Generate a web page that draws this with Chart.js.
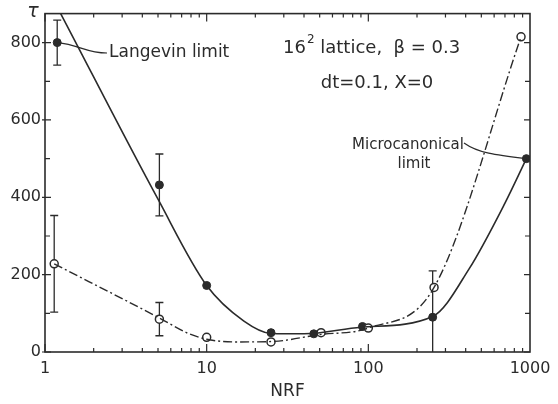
<!DOCTYPE html>
<html>
<head>
<meta charset="utf-8">
<script src="https://cdn.jsdelivr.net/npm/chart.js@4.4.0/dist/chart.umd.min.js"></script>
<style>
html, body { margin: 0; padding: 0; background: #fff; }
#c { display: block; }
</style>
</head>
<body>
<canvas id="c" width="558" height="404"></canvas>
<script>
// measured points (filled = solid curve, open = dash-dot curve)
const filledX = [1.19, 5.1, 10, 25, 46, 92, 250, 950];
const filledY = [800, 432, 172, 50, 47, 66, 90, 500];
const filledErr = [58, 80, 0, 0, 0, 0, 120, 0];
const openX = [1.14, 5.1, 10, 25, 51, 100, 255, 880];
const openY = [228, 85, 38, 26, 50, 62, 167, 815];
const openErr = [125, 43, 0, 0, 0, 0, 0, 0];

// the hand drawn curves through them
const solidFitX = [1.25, 5, 10, 17, 25, 40, 90, 250, 420, 700, 950];
const solidFitY = [875, 395, 172, 80, 48, 47, 64, 92, 215, 385, 500];
const dashFitX = [1.14, 5.1, 7.6, 10, 15, 25, 50, 100, 255, 880];
const dashFitY = [228, 88, 49, 33, 26, 27, 45, 62, 167, 815];

const xLabelTicks = [1, 10, 100, 1000];
const yLabelTicks = [0, 200, 400, 600, 800];
const yMinorTicks = [100, 300, 500, 700];

const ink = '#2b2b2b';
const font = 'DejaVu Sans';

const pts = (xs, ys) => xs.map((x, i) => ({ x, y: ys[i] }));

const decor = {
    id: 'decor',
    beforeDatasetsDraw(chart) {
        const { ctx, chartArea: a, scales: { x, y } } = chart;
        ctx.save();
        ctx.beginPath();
        ctx.rect(a.left, a.top - 8, a.right - a.left, a.bottom - a.top + 8);
        ctx.clip();
        ctx.strokeStyle = ink;
        ctx.lineWidth = 1.3;
        const bars = (xs, ys, es) => xs.forEach((xv, i) => {
            if (!es[i]) return;
            const px = x.getPixelForValue(xv);
            const top = y.getPixelForValue(ys[i] + es[i]);
            const bot = y.getPixelForValue(ys[i] - es[i]);
            ctx.beginPath();
            ctx.moveTo(px, top); ctx.lineTo(px, bot);
            ctx.moveTo(px - 4, top); ctx.lineTo(px + 4, top);
            ctx.moveTo(px - 4, bot); ctx.lineTo(px + 4, bot);
            ctx.stroke();
        });
        bars(filledX, filledY, filledErr);
        bars(openX, openY, openErr);
        ctx.restore();
    },
    afterDraw(chart) {
        const { ctx, chartArea: a, scales: { x, y } } = chart;
        ctx.save();
        ctx.strokeStyle = ink;
        ctx.fillStyle = ink;

        // frame
        ctx.lineWidth = 1.6;
        ctx.strokeRect(a.left, a.top, a.right - a.left, a.bottom - a.top);

        // inward ticks on all four sides
        ctx.lineWidth = 1.2;
        ctx.beginPath();
        for (let d = 1; d < 1000; d *= 10) {
            for (let m = 1; m < 10; m++) {
                const px = x.getPixelForValue(m * d);
                const len = m === 1 ? 8 : 4;
                ctx.moveTo(px, a.bottom); ctx.lineTo(px, a.bottom - len);
                ctx.moveTo(px, a.top); ctx.lineTo(px, a.top + len);
            }
        }
        yLabelTicks.forEach(v => {
            const py = y.getPixelForValue(v);
            ctx.moveTo(a.left - 3, py); ctx.lineTo(a.left + 6, py);
            ctx.moveTo(a.right, py); ctx.lineTo(a.right - 6, py);
        });
        yMinorTicks.forEach(v => {
            const py = y.getPixelForValue(v);
            ctx.moveTo(a.left, py); ctx.lineTo(a.left + 5, py);
            ctx.moveTo(a.right, py); ctx.lineTo(a.right - 5, py);
        });
        ctx.stroke();

        // axis symbol
        ctx.font = `italic 19px ${font}`;
        ctx.textAlign = 'center';
        ctx.textBaseline = 'middle';
        ctx.fillText('τ', 33, 12);

        // leader lines
        const lx = x.getPixelForValue(filledX[0]);
        const ly = y.getPixelForValue(filledY[0]);
        const mx = x.getPixelForValue(filledX[7]);
        const my = y.getPixelForValue(filledY[7]);
        ctx.lineWidth = 1.2;
        ctx.beginPath();
        ctx.moveTo(lx, ly);
        ctx.bezierCurveTo(lx + 22, ly + 2, 86, 53, 107, 53);
        ctx.moveTo(464, 143);
        ctx.bezierCurveTo(478, 153, 495, 155, mx, my);
        ctx.stroke();

        // annotations
        ctx.textAlign = 'left';
        ctx.font = `17px ${font}`;
        ctx.fillText('Langevin limit', 109, 53);

        let tx = 283;
        ctx.font = `18px ${font}`;
        ctx.fillText('16', tx, 48);
        tx += ctx.measureText('16').width + 1;
        ctx.font = `12px ${font}`;
        ctx.fillText('2', tx, 40);
        tx += ctx.measureText('2').width;
        ctx.font = `18px ${font}`;
        ctx.fillText(' lattice,  β = 0.3', tx, 48);

        ctx.textAlign = 'center';
        ctx.fillText('dt=0.1, X=0', 377, 83);

        ctx.font = `15px ${font}`;
        ctx.fillText('Microcanonical', 408, 145);
        ctx.fillText('limit', 414, 164);
        ctx.restore();
    }
};

new Chart(document.getElementById('c'), {
    type: 'scatter',
    data: {
        datasets: [
            {
                type: 'line',
                data: pts(solidFitX, solidFitY),
                borderColor: ink,
                borderWidth: 1.6,
                pointRadius: 0,
                cubicInterpolationMode: 'monotone',
                fill: false,
            },
            {
                type: 'line',
                data: pts(dashFitX, dashFitY),
                borderColor: ink,
                borderWidth: 1.4,
                borderDash: [9, 3, 2, 3],
                pointRadius: 0,
                cubicInterpolationMode: 'monotone',
                fill: false,
            },
            {
                data: pts(openX, openY),
                pointRadius: 4,
                pointBackgroundColor: '#fff',
                pointBorderColor: ink,
                pointBorderWidth: 1.5,
            },
            {
                data: pts(filledX, filledY),
                pointRadius: 4,
                pointBackgroundColor: ink,
                pointBorderColor: ink,
                pointBorderWidth: 1,
            },
        ],
    },
    options: {
        responsive: false,
        animation: false,
        layout: { padding: { top: 11, right: 28, left: 0, bottom: 0 } },
        scales: {
            x: {
                type: 'logarithmic',
                min: 1,
                max: 1000,
                grid: { display: false, drawTicks: false },
                border: { display: false },
                ticks: {
                    autoSkip: false,
                    maxRotation: 0,
                    padding: 7,
                    color: ink,
                    font: { family: font, size: 16 },
                    callback: v => xLabelTicks.includes(v) ? String(v) : '',
                },
                title: {
                    display: true,
                    text: 'NRF',
                    color: ink,
                    font: { family: font, size: 17 },
                    padding: { top: 2, bottom: 2 },
                },
                afterFit: s => { s.height = 52; },
            },
            y: {
                min: 0,
                max: 875,
                grid: { display: false, drawTicks: false },
                border: { display: false },
                ticks: {
                    stepSize: 100,
                    padding: 4,
                    color: ink,
                    font: { family: font, size: 16 },
                    callback: v => yLabelTicks.includes(v) ? String(v) : '',
                },
                afterFit: s => { s.width = 45; },
            },
        },
        plugins: {
            legend: { display: false },
            tooltip: { enabled: false },
        },
    },
    plugins: [decor],
});
</script>
</body>
</html>
